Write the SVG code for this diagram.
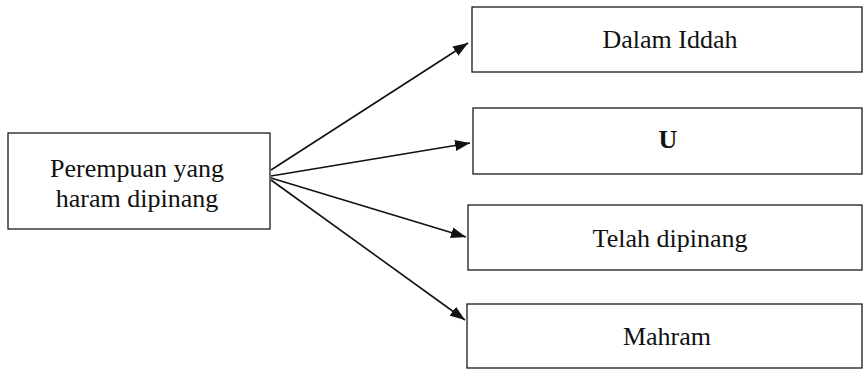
<svg xmlns="http://www.w3.org/2000/svg" width="864" height="376" viewBox="0 0 864 376">
<style>
.box{fill:#fff;stroke:#1a1a1a;stroke-width:1.3}
.t{font-family:"Liberation Serif","Times New Roman",serif;font-size:26px;fill:#111;text-anchor:middle}
.c{stroke:#111;stroke-width:1.6;fill:none}
</style>
<defs>
<marker id="ah" viewBox="0 0 15 11" refX="15" refY="5.5" markerWidth="15" markerHeight="11" markerUnits="userSpaceOnUse" orient="auto">
<path d="M0,0 L15,5.5 L0,11 z" fill="#111"/>
</marker>
</defs>
<rect width="864" height="376" fill="#fff"/>
<g id="source">
<rect class="box" x="8" y="133" width="262" height="96"/>
<text class="t" x="137" y="177">Perempuan yang</text>
<text class="t" x="137" y="207">haram dipinang</text>
</g>
<g id="n1">
<rect class="box" x="472" y="7" width="390" height="65"/>
<text class="t" x="670" y="48">Dalam Iddah</text>
</g>
<g id="n2">
<rect class="box" x="473" y="108" width="389" height="66"/>
<text class="t" x="668" y="148" font-weight="bold">U</text>
</g>
<g id="n3">
<rect class="box" x="468" y="205" width="394" height="65"/>
<text class="t" x="670" y="247">Telah dipinang</text>
</g>
<g id="n4">
<rect class="box" x="467" y="304" width="395" height="64"/>
<text class="t" x="667" y="345">Mahram</text>
</g>
<g id="connectors">
<line class="c" x1="271" y1="170" x2="468" y2="43" marker-end="url(#ah)"/>
<line class="c" x1="271" y1="176" x2="470" y2="143" marker-end="url(#ah)"/>
<line class="c" x1="271" y1="178" x2="466" y2="237" marker-end="url(#ah)"/>
<line class="c" x1="271" y1="180" x2="465" y2="320" marker-end="url(#ah)"/>
</g>
</svg>
